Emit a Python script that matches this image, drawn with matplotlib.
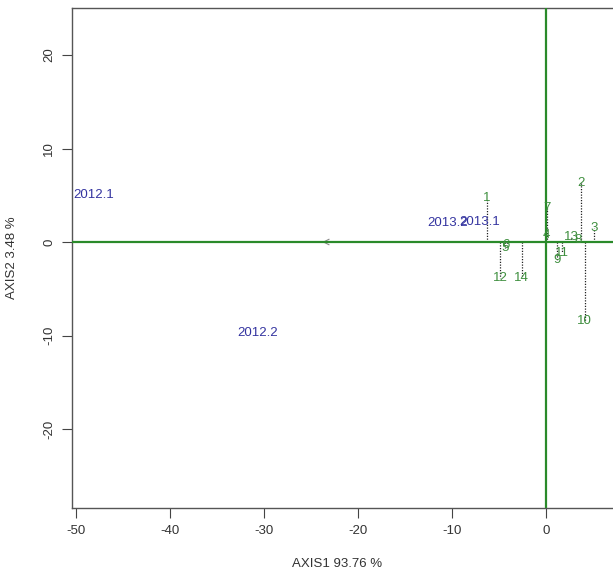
import matplotlib
matplotlib.use("Agg")
from matplotlib import pyplot as plt

plt.rcParams['font.family'] = ['Liberation Sans', 'DejaVu Sans']
plt.rcParams['axes.unicode_minus'] = False

# site scores (green labels)
sites = ['1', '2', '3', '4', '5', '6', '7', '8', '9', '10', '11', '12', '13', '14']
site_x = [-6.3, 3.7, 5.1, 0.0, -4.4, -4.2, 0.1, 3.4, 1.2, 4.1, 1.7, -4.9, 2.7, -2.6]
site_y = [4.7, 6.3, 1.5, 0.7, -0.6, -0.3, 3.6, 0.2, -1.9, -8.4, -1.2, -3.9, 0.5, -3.9]

# year scores (blue labels)
years = ['2012.1', '2012.2', '2013.1', '2013.2']
year_x = [-48.1, -30.7, -7.1, -10.5]
year_y = [5.0, -9.7, 2.1, 2.0]

# arrow end
arrow_x = -23.8
arrow_y = 0.0

fig = plt.figure(figsize=(6.13, 5.71), dpi=100)
W, H = 613, 571
ax = fig.add_axes([72/W, (H-508)/H, (640-72)/W, 500/H])

ax.set_xlim(-50.43, 10)
ax.set_ylim(-28.45, 25.03)

green = '#2a8a2a'
txtgreen = '#3f8f3f'
blue = '#3434a0'

# dotted verticals from axis to the site labels
ax.vlines(site_x, 0, site_y, colors='#222222', linestyles=(0, (1, 1.2)), linewidth=0.9, zorder=2)

ax.annotate('', xy=(arrow_x, arrow_y), xytext=(0, 0),
            arrowprops=dict(arrowstyle='->', color='#888888', lw=0.8,
                            mutation_scale=10, shrinkA=0, shrinkB=0), zorder=3)

ax.axhline(0, color=green, linewidth=1.6, zorder=4)
ax.axvline(0, color=green, linewidth=1.6, zorder=4)

for lab, x, y in zip(sites, site_x, site_y):
    ax.text(x, y, lab, color=txtgreen, fontsize=9.5, ha='center', va='center', zorder=5)
for lab, x, y in zip(years, year_x, year_y):
    ax.text(x, y, lab, color=blue, fontsize=9.5, ha='center', va='center', zorder=5)

ax.set_xticks([-50, -40, -30, -20, -10, 0])
ax.set_yticks([-20, -10, 0, 10, 20])
ax.tick_params(direction='out', length=7, width=0.8, color='#444444', labelsize=9.5, labelcolor='#333333')
ax.tick_params(axis='x', pad=5)
ax.tick_params(axis='y', pad=5)
for t in ax.get_yticklabels():
    t.set_rotation(90)
    t.set_va('center')
for s in ax.spines.values():
    s.set_color('#555555')
    s.set_linewidth(1.0)

ax.set_xlabel('AXIS1 93.76 %', fontsize=9.5, color='#333333')
ax.set_ylabel('AXIS2 3.48 %', fontsize=9.5, color='#333333')
ax.xaxis.set_label_coords((337-72)/568, -0.1)
ax.yaxis.set_label_coords((18-72)/568, 0.5)

fig.savefig('out.png', dpi=100)
